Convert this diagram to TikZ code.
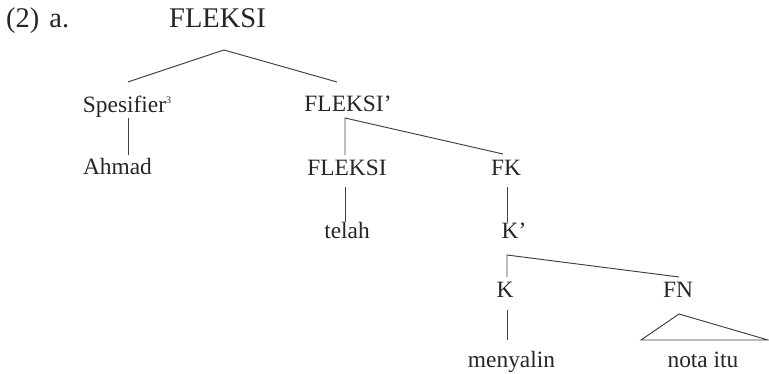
\documentclass[tikz,border=0pt]{standalone}
\usepackage{fontspec}
\setmainfont{Liberation Serif}
\begin{document}
\begin{tikzpicture}[x=1pt,y=-1pt,
  lab/.style={anchor=base,inner sep=0pt,text=black!85,font=\fontsize{23.4}{26}\selectfont},
  head/.style={anchor=base,inner sep=0pt,text=black!85,font=\fontsize{28.5}{32}\selectfont},
  branch/.style={draw=black!75,line width=0.95pt}]
\useasboundingbox (0,0) rectangle (769,374);

% labels
\node[head,anchor=base west] (ex) at (6,28) {(2)\hspace{10pt}a.};
\node[head] (root) at (217.5,28) {FLEKSI};
\node[lab] (spes) at (127,113) {Spesifier\raisebox{9pt}{\fontsize{10}{11}\selectfont 3}};
\node[lab] (fbar) at (348,112) {FLEKSI’};
\node[lab] (ahmad) at (117.5,175) {Ahmad};
\node[lab] (fleksi) at (347,176) {FLEKSI};
\node[lab] (fk) at (506,176) {FK};
\node[lab] (telah) at (347,239) {telah};
\node[lab] (kbar) at (514,239) {K’};
\node[lab] (k) at (505,298) {K};
\node[lab] (fn) at (678,298) {FN};
\node[lab] (menyalin) at (511.5,367) {menyalin};
\node[lab] (nota) at (703,367) {nota itu};

% branch points
\coordinate (apex) at (224,50);
\coordinate (spesT) at (128,82);
\coordinate (fbarT) at (337,82);
\coordinate (spesB) at (128,118);
\coordinate (ahmadT) at (128,155);
\coordinate (fbarB) at (345,118);
\coordinate (fleksiT) at (345,155);
\coordinate (fkT) at (503,154);
\coordinate (fleksiB) at (345,187);
\coordinate (telahT) at (345,222);
\coordinate (fkB) at (507,187);
\coordinate (kbarT) at (507,222);
\coordinate (kbarB) at (507,255);
\coordinate (kT) at (507,277);
\coordinate (fnT) at (679,277);
\coordinate (kB) at (507,310);
\coordinate (menyalinT) at (507,340);
\coordinate (triA) at (679,314);
\coordinate (triL) at (641,340);
\coordinate (triR) at (768,340);

% tree branches
\draw[branch] (spesT) -- (apex) -- (fbarT);
\draw[branch] (spesB) -- (ahmadT);
\draw[branch] (fleksiT) -- (fbarB) -- (fkT);
\draw[branch] (fleksiB) -- (telahT);
\draw[branch] (fkB) -- (kbarT);
\draw[branch] (kT) -- (kbarB) -- (fnT);
\draw[branch] (kB) -- (menyalinT);
\draw[branch,line join=miter] (triA) -- (triL) -- (triR) -- cycle;
\end{tikzpicture}
\end{document}
